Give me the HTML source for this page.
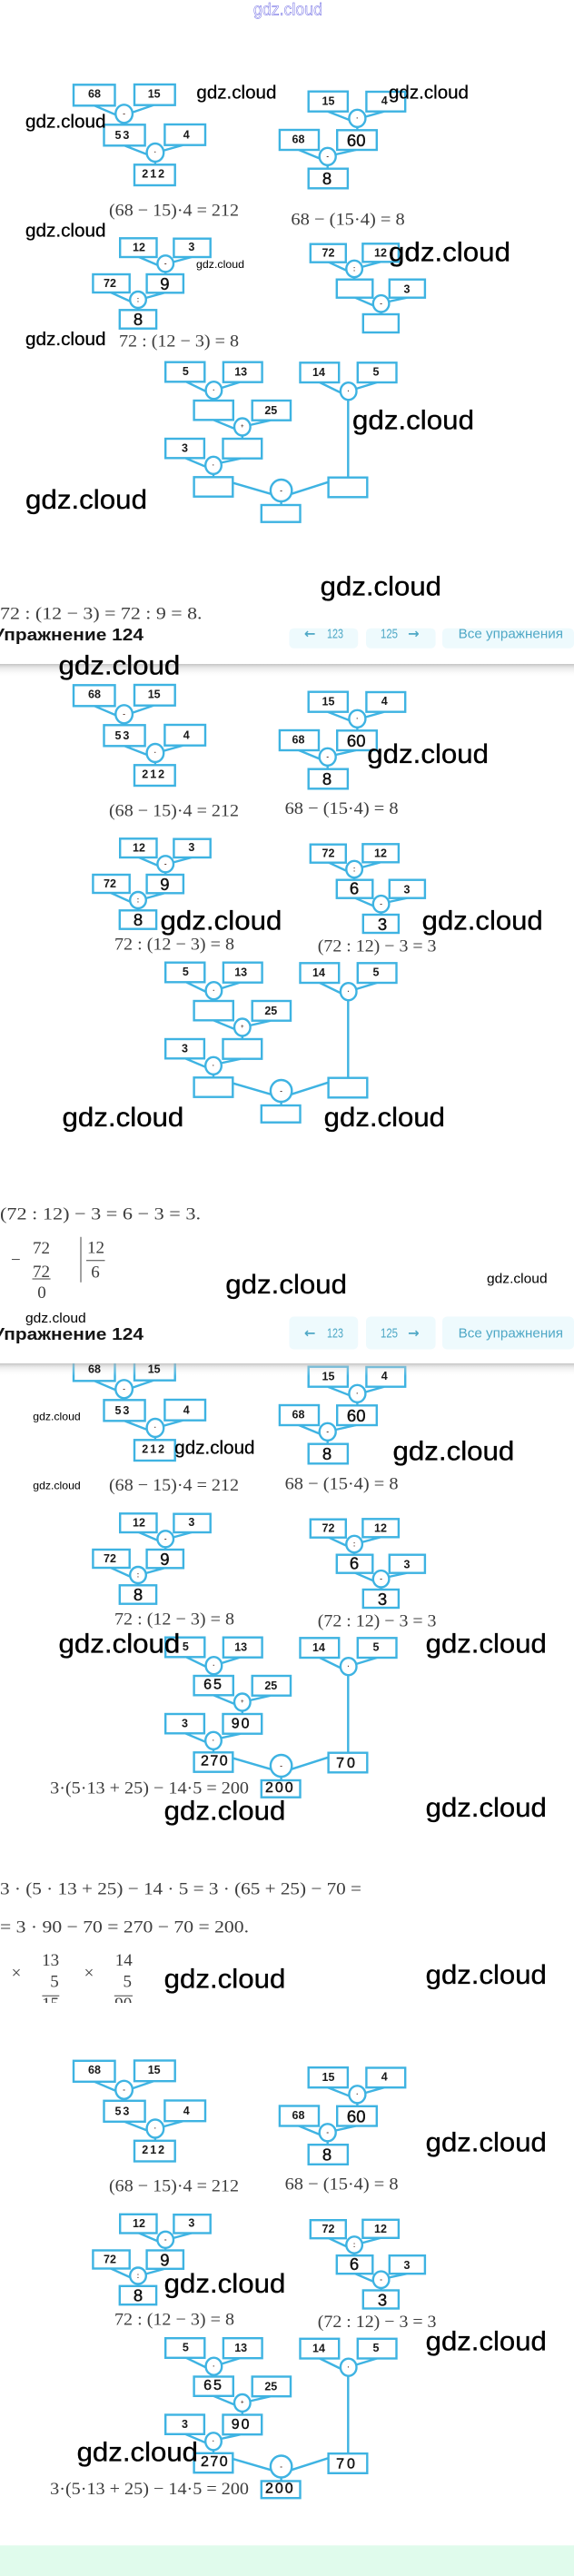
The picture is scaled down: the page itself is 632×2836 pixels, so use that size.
<!DOCTYPE html>
<html lang="ru">
<head>
<meta charset="utf-8">
<title>Упражнение 124</title>
<style>
html,body{margin:0;padding:0;background:#fff}
body{width:632px;height:2836px;overflow:hidden}
svg{display:block}
.n{font:bold 12.5px "Liberation Sans",sans-serif;fill:#1a1a1a;text-anchor:middle;dominant-baseline:central}
.w{letter-spacing:2px}
.b{font:400 18.5px "Liberation Sans",sans-serif;fill:#111;stroke:#111;stroke-width:.45;text-anchor:middle;dominant-baseline:central}
.s{letter-spacing:2px}
.o{font:bold 8px "Liberation Sans",sans-serif;fill:#5a3a30;text-anchor:middle;dominant-baseline:central}
.f{font:19px "Liberation Serif",serif;fill:#3d3d3d}
.c{font:19px "Liberation Serif",serif;fill:#3d3d3d;text-anchor:middle}
.g{font-family:"Liberation Sans","DejaVu Sans",sans-serif;fill:#000}
.l{font-size:30px;stroke:#000;stroke-width:.35}.m{font-size:20px;stroke:#000;stroke-width:.25}.t{font-size:15px}.u{font-size:12px}
.h{font:bold 18.5px "Liberation Sans",sans-serif;fill:#151515}
.v{font:15px "Liberation Sans",sans-serif;fill:#4fa8c6}
.a{font:bold 15px "DejaVu Sans",sans-serif;fill:#4fa8c6}
</style>
</head>
<body>
<svg xmlns="http://www.w3.org/2000/svg" width="632" height="2836" viewBox="0 0 632 2836">
<defs>
<linearGradient id="sh" x1="0" y1="0" x2="0" y2="1"><stop offset="0" stop-color="#aaa" stop-opacity=".7"/><stop offset=".3" stop-color="#ccc" stop-opacity=".4"/><stop offset="1" stop-color="#fff" stop-opacity="0"/></linearGradient>
<g id="m" fill="#fff" stroke="#3eb3e2" stroke-width="2.4">
<!-- A -->
<path fill="none" d="M104 116.3L129 127M169 115.7L145 124M136.6 135V137.3M137 160.3L162 170M201.5 159.7L179 166M170.9 178V181.3"/>
<rect x="81" y="93.3" width="45.5" height="23"/><rect x="148" y="93" width="44.7" height="22.7"/><rect x="114.5" y="137.3" width="45.1" height="23"/><rect x="181.4" y="137" width="44.6" height="22.7"/><rect x="148" y="181.3" width="44.7" height="22.7"/>
<ellipse cx="136.6" cy="125.3" rx="9.3" ry="10"/><ellipse cx="170.9" cy="168" rx="9.3" ry="10"/>
<!-- B -->
<path fill="none" d="M361 122.7L384.5 132M423 122.7L402.5 128.5M393.4 140V143.3M329 165L352 174.5M392 165L369.5 170M360.7 182V185.7"/>
<rect x="339.7" y="100.7" width="43.2" height="22"/><rect x="403.4" y="101" width="42.8" height="21.7"/><rect x="307.9" y="143" width="43.1" height="22"/><rect x="371.2" y="143.3" width="43.6" height="21.7"/><rect x="339.7" y="185.7" width="43.2" height="21.6"/>
<ellipse cx="393.4" cy="130.3" rx="9" ry="9.5"/><ellipse cx="360.7" cy="172.3" rx="9" ry="9.5"/>
<!-- C -->
<path fill="none" d="M153 283L174 292M211 283L190.5 288.5M182.2 300V302M122 322L144 332M181 322.3L160.5 328M152 339.5V341.3"/>
<rect x="132.2" y="262.3" width="40.3" height="20.7"/><rect x="191.4" y="262.7" width="40.3" height="20.3"/><rect x="102.4" y="302" width="40.3" height="20"/><rect x="161.6" y="302" width="40.3" height="20.3"/><rect x="131.8" y="341.3" width="40.3" height="20.4"/>
<ellipse cx="182.2" cy="290.3" rx="8.8" ry="9"/><ellipse cx="152" cy="330" rx="8.8" ry="9"/>
<!-- D -->
<path fill="none" d="M362 288.7L382 298M419 288.3L398 294M390 306V307.7M391 327.7L411.5 336.5M448 327.7L428 332M419.6 344V346"/>
<rect x="341.8" y="268.7" width="39" height="20"/><rect x="399.4" y="268.3" width="39.5" height="20"/><rect x="370.8" y="307.7" width="39.5" height="20"/><rect x="428.8" y="307.7" width="39.1" height="20"/><rect x="399.8" y="346" width="39.1" height="20"/>
<ellipse cx="390.1" cy="296" rx="8.8" ry="9.2"/><ellipse cx="419.6" cy="334.3" rx="8.8" ry="9.2"/>
<!-- E -->
<path fill="none" d="M205 420.3L227 431M264 420.7L244 427M235.4 439.7V441M235 462.3L258.5 472M298 462.7L275 468M266.8 480V483M204 504.3L227 514M265 504.7L243 509.5M235 522V525.3M352 421L375.5 432.5M415 421L392 428M383.3 440V525.7M256.8 531.7L298 543.7M361.6 530.7L321 543.7M309.6 552V556"/>
<rect x="182.2" y="398.7" width="43.1" height="21.6"/><rect x="245.9" y="398.7" width="42.7" height="22"/><rect x="213.6" y="441" width="43.2" height="21.3"/><rect x="277.7" y="441" width="42.3" height="21.7"/><rect x="182.2" y="483" width="42.7" height="21.3"/><rect x="245.5" y="483" width="42.7" height="21.7"/><rect x="213.6" y="525.3" width="42.7" height="21.4"/><rect x="330.5" y="399.3" width="42.7" height="21.7"/><rect x="393.8" y="399.3" width="42.7" height="21.7"/><rect x="361.6" y="525.7" width="42.7" height="21.6"/><rect x="287.8" y="556" width="42.7" height="18.7"/>
<ellipse cx="235.4" cy="429.7" rx="8.8" ry="9.5"/><ellipse cx="266.8" cy="470" rx="8.8" ry="9.5"/><ellipse cx="235" cy="512.3" rx="8.8" ry="9.5"/><ellipse cx="383.7" cy="430.7" rx="8.8" ry="9.5"/><ellipse cx="309.6" cy="540" rx="11.7" ry="12"/>
<g stroke="none">
<text class="o" x="136.6" y="125">-</text><text class="o" x="170.9" y="167.5">·</text><text class="o" x="393.4" y="130">·</text><text class="o" x="360.7" y="172">-</text><text class="o" x="182.2" y="290">-</text><text class="o" x="152" y="330">:</text><text class="o" x="390.1" y="296">:</text><text class="o" x="419.6" y="334">-</text><text class="o" x="235.4" y="429.5">·</text><text class="o" x="266.8" y="470" style="font-size:6px">+</text><text class="o" x="235" y="512">·</text><text class="o" x="383.7" y="430.5">·</text><text class="o" x="309.6" y="540">-</text>
</g>
</g>
</defs>

<!-- Diagram sets -->
<use href="#m"/>
<use href="#m" y="661"/>
<use href="#m" y="1404"/>
<use href="#m" y="2175.5"/>

<g>
<text class="n" x="104" y="103.7">68</text><text class="n" x="169.7" y="103.3">15</text><text class="n w" x="135.4" y="149">53</text><text class="n" x="205.2" y="148.3">4</text><text class="n w" x="169.7" y="191.7">212</text>
<text class="n" x="361.5" y="111.7">15</text><text class="n" x="423.2" y="111">4</text><text class="n" x="328.5" y="153.3">68</text><text class="b" x="392.2" y="154.3">60</text><text class="b" x="360" y="196.7">8</text>
<text class="n" x="153" y="272.7">12</text><text class="n" x="210.8" y="272">3</text><text class="n" x="121" y="312">72</text><text class="b" x="181.4" y="312.7">9</text><text class="b" x="152" y="351.7">8</text>
<text class="n" x="361.5" y="278.7">72</text><text class="n" x="419" y="278.7">12</text><text class="n" x="448" y="318.3">3</text>
<text class="n" x="204.3" y="409">5</text><text class="n" x="265.2" y="409.7">13</text><text class="n" x="298.3" y="452">25</text><text class="n" x="203.5" y="493.7">3</text><text class="n" x="351" y="410">14</text><text class="n" x="414" y="409.7">5</text>
</g>
<g transform="translate(0 661)">
<text class="n" x="104" y="103.7">68</text><text class="n" x="169.7" y="103.3">15</text><text class="n w" x="135.4" y="149">53</text><text class="n" x="205.2" y="148.3">4</text><text class="n w" x="169.7" y="191.7">212</text>
<text class="n" x="361.5" y="111.7">15</text><text class="n" x="423.2" y="111">4</text><text class="n" x="328.5" y="153.3">68</text><text class="b" x="392.2" y="154.3">60</text><text class="b" x="360" y="196.7">8</text>
<text class="n" x="153" y="272.7">12</text><text class="n" x="210.8" y="272">3</text><text class="n" x="121" y="312">72</text><text class="b" x="181.4" y="312.7">9</text><text class="b" x="152" y="351.7">8</text>
<text class="n" x="361.5" y="278.7">72</text><text class="n" x="419" y="278.7">12</text><text class="n" x="448" y="318.3">3</text><text class="b" x="390" y="317">6</text><text class="b" x="421" y="356.3">3</text>
<text class="n" x="204.3" y="409">5</text><text class="n" x="265.2" y="409.7">13</text><text class="n" x="298.3" y="452">25</text><text class="n" x="203.5" y="493.7">3</text><text class="n" x="351" y="410">14</text><text class="n" x="414" y="409.7">5</text>
</g>
<g transform="translate(0 2175.5)">
<text class="n" x="104" y="103.7">68</text><text class="n" x="169.7" y="103.3">15</text><text class="n w" x="135.4" y="149">53</text><text class="n" x="205.2" y="148.3">4</text><text class="n w" x="169.7" y="191.7">212</text>
<text class="n" x="361.5" y="111.7">15</text><text class="n" x="423.2" y="111">4</text><text class="n" x="328.5" y="153.3">68</text><text class="b" x="392.2" y="154.3">60</text><text class="b" x="360" y="196.7">8</text>
<text class="n" x="153" y="272.7">12</text><text class="n" x="210.8" y="272">3</text><text class="n" x="121" y="312">72</text><text class="b" x="181.4" y="312.7">9</text><text class="b" x="152" y="351.7">8</text>
<text class="n" x="361.5" y="278.7">72</text><text class="n" x="419" y="278.7">12</text><text class="n" x="448" y="318.3">3</text><text class="b" x="390" y="317">6</text><text class="b" x="421" y="356.3">3</text>
<text class="n" x="204.3" y="409">5</text><text class="n" x="265.2" y="409.7">13</text><text class="n" x="298.3" y="452">25</text><text class="n" x="203.5" y="493.7">3</text><text class="n" x="351" y="410">14</text><text class="n" x="414" y="409.7">5</text>
<text class="b s" x="235" y="451" style="font-size:16px">65</text><text class="b s" x="265.6" y="494" style="font-size:16px">90</text><text class="b" x="236.6" y="535" style="font-size:16px;letter-spacing:1.5px">270</text><text class="b s" x="382" y="537.3" style="font-size:16px;letter-spacing:3px">70</text><text class="b s" x="308.3" y="564.7" style="font-size:16px">200</text>
</g>

<!-- Formulas -->
<g>
<text class="f" x="120" y="237.7" textLength="143" lengthAdjust="spacingAndGlyphs">(68 − 15)·4 = 212</text>
<text class="f" x="320.4" y="247.3" textLength="125.4" lengthAdjust="spacingAndGlyphs">68 − (15·4) = 8</text>
<text class="f" x="131" y="381.7" textLength="132" lengthAdjust="spacingAndGlyphs">72 : (12 − 3) = 8</text>
<text class="f" x="0" y="681.7" textLength="222.5" lengthAdjust="spacingAndGlyphs">72 : (12 − 3) = 72 : 9 = 8.</text>

<text class="f" x="120" y="898.3" textLength="143" lengthAdjust="spacingAndGlyphs">(68 − 15)·4 = 212</text>
<text class="f" x="313.6" y="896" textLength="125" lengthAdjust="spacingAndGlyphs">68 − (15·4) = 8</text>
<text class="f" x="126" y="1045.7" textLength="132" lengthAdjust="spacingAndGlyphs">72 : (12 − 3) = 8</text>
<text class="f" x="349.8" y="1047.7" textLength="130.7" lengthAdjust="spacingAndGlyphs">(72 : 12) − 3 = 3</text>
<text class="f" x="0" y="1342.7" textLength="221" lengthAdjust="spacingAndGlyphs">(72 : 12) − 3 = 6 − 3 = 3.</text>

<text class="f" x="12" y="1393">−</text>
<text class="c" x="45.5" y="1380">72</text>
<text class="c" x="45.5" y="1406">72</text>
<text class="c" x="46" y="1429">0</text>
<text class="c" x="105.5" y="1379.3">12</text>
<text class="c" x="105" y="1406.7">6</text>

<text class="f" x="120" y="1641" textLength="143" lengthAdjust="spacingAndGlyphs">(68 − 15)·4 = 212</text>
<text class="f" x="313.6" y="1639.3" textLength="125" lengthAdjust="spacingAndGlyphs">68 − (15·4) = 8</text>
<text class="f" x="126" y="1788.3" textLength="132" lengthAdjust="spacingAndGlyphs">72 : (12 − 3) = 8</text>
<text class="f" x="349.8" y="1790.7" textLength="130.7" lengthAdjust="spacingAndGlyphs">(72 : 12) − 3 = 3</text>
<text class="f" x="55.2" y="1974.7" textLength="218.8" lengthAdjust="spacingAndGlyphs">3·(5·13 + 25) − 14·5 = 200</text>
<text class="f" x="0" y="2085.3" textLength="398" lengthAdjust="spacingAndGlyphs">3 · (5 · 13 + 25) − 14 · 5 = 3 · (65 + 25) − 70 =</text>
<text class="f" x="0" y="2127.3" textLength="274" lengthAdjust="spacingAndGlyphs">= 3 · 90 − 70 = 270 − 70 = 200.</text>

<text class="c" x="55.6" y="2164">13</text>
<text class="c" x="136.2" y="2164">14</text>
<text class="c" x="18" y="2178">×</text>
<text class="c" x="98" y="2178">×</text>
<text class="c" x="60" y="2187.3">5</text>
<text class="c" x="140.3" y="2187.3">5</text>
<text class="c" x="55.6" y="2212">15</text>
<text class="c" x="135.8" y="2212">90</text>

<text class="f" x="120" y="2412.3" textLength="143" lengthAdjust="spacingAndGlyphs">(68 − 15)·4 = 212</text>
<text class="f" x="313.6" y="2410.7" textLength="125" lengthAdjust="spacingAndGlyphs">68 − (15·4) = 8</text>
<text class="f" x="126" y="2559.3" textLength="132" lengthAdjust="spacingAndGlyphs">72 : (12 − 3) = 8</text>
<text class="f" x="349.8" y="2562" textLength="130.7" lengthAdjust="spacingAndGlyphs">(72 : 12) − 3 = 3</text>
<text class="f" x="55.2" y="2746" textLength="218.8" lengthAdjust="spacingAndGlyphs">3·(5·13 + 25) − 14·5 = 200</text>
</g>
<!-- arithmetic rules -->
<g stroke="#444" stroke-width="1" fill="none">
<path d="M35.5 1408H55.6M89 1361.7V1411.7M95 1387.7H115.5M46.4 2197.3H65.3M125.8 2197.3H146"/>
</g>
<rect x="0" y="2205" width="632" height="12" fill="#fff"/>

<!-- First page header -->
<rect x="318.4" y="691.7" width="75.8" height="22" rx="5" fill="#eefafd"/>
<rect x="403" y="691.7" width="76.6" height="22" rx="5" fill="#eefafd"/>
<rect x="487" y="691.7" width="145" height="22" rx="5" fill="#eefafd"/>
<text class="a" x="335" y="702.5">←</text><text class="v" x="360" y="702.5" textLength="18" lengthAdjust="spacingAndGlyphs">123</text>
<text class="v" x="419" y="702.5" textLength="19" lengthAdjust="spacingAndGlyphs">125</text><text class="a" x="449" y="702.5">→</text>
<text class="v" x="504.6" y="702.5" textLength="115.4" lengthAdjust="spacingAndGlyphs">Все упражнения</text>
<text class="h" x="-8" y="705" textLength="166" lengthAdjust="spacingAndGlyphs">Упражнение 124</text>
<rect x="0" y="731" width="632" height="15" fill="url(#sh)"/>

<!-- Second page header -->
<rect x="0" y="1440" width="632" height="61" fill="#fff"/>
<rect x="318.4" y="1449.5" width="75.8" height="36" rx="5" fill="#eefafd"/>
<rect x="403" y="1449.5" width="76.6" height="36" rx="5" fill="#eefafd"/>
<rect x="487" y="1449.5" width="145" height="36" rx="5" fill="#eefafd"/>
<text class="a" x="335" y="1472.5">←</text><text class="v" x="360" y="1472.5" textLength="18" lengthAdjust="spacingAndGlyphs">123</text>
<text class="v" x="419" y="1472.5" textLength="19" lengthAdjust="spacingAndGlyphs">125</text><text class="a" x="449" y="1472.5">→</text>
<text class="v" x="504.6" y="1472.5" textLength="115.4" lengthAdjust="spacingAndGlyphs">Все упражнения</text>
<text class="h" x="-8" y="1475" textLength="166" lengthAdjust="spacingAndGlyphs">Упражнение 124</text>
<rect x="0" y="1501" width="632" height="14" fill="url(#sh)"/>

<!-- Third diagram set labels sit above the header shadow -->
<g transform="translate(0 1404)">
<text class="n" x="104" y="103.7">68</text><text class="n" x="169.7" y="103.3">15</text><text class="n w" x="135.4" y="149">53</text><text class="n" x="205.2" y="148.3">4</text><text class="n w" x="169.7" y="191.7">212</text>
<text class="n" x="361.5" y="111.7">15</text><text class="n" x="423.2" y="111">4</text><text class="n" x="328.5" y="153.3">68</text><text class="b" x="392.2" y="154.3">60</text><text class="b" x="360" y="196.7">8</text>
<text class="n" x="153" y="272.7">12</text><text class="n" x="210.8" y="272">3</text><text class="n" x="121" y="312">72</text><text class="b" x="181.4" y="312.7">9</text><text class="b" x="152" y="351.7">8</text>
<text class="n" x="361.5" y="278.7">72</text><text class="n" x="419" y="278.7">12</text><text class="n" x="448" y="318.3">3</text><text class="b" x="390" y="317">6</text><text class="b" x="421" y="356.3">3</text>
<text class="n" x="204.3" y="409">5</text><text class="n" x="265.2" y="409.7">13</text><text class="n" x="298.3" y="452">25</text><text class="n" x="203.5" y="493.7">3</text><text class="n" x="351" y="410">14</text><text class="n" x="414" y="409.7">5</text>
<text class="b s" x="235" y="451" style="font-size:16px">65</text><text class="b s" x="265.6" y="494" style="font-size:16px">90</text><text class="b" x="236.6" y="535" style="font-size:16px;letter-spacing:1.5px">270</text><text class="b s" x="382" y="537.3" style="font-size:16px;letter-spacing:3px">70</text><text class="b s" x="308.3" y="564.7" style="font-size:16px">200</text>
</g>

<!-- Footer band -->
<rect x="0" y="2802.3" width="632" height="34" fill="#e0fbec"/>

<!-- Watermarks -->
<text x="279" y="16.7" textLength="76" lengthAdjust="spacingAndGlyphs" style="font:18px 'Liberation Sans',sans-serif;fill:#fff;stroke:#5a56e0;stroke-width:.45">gdz.cloud</text>
<g class="g">
<text class="m" x="216.4" y="108.3" textLength="88" lengthAdjust="spacingAndGlyphs">gdz.cloud</text>
<text class="m" x="428" y="108.3" textLength="88" lengthAdjust="spacingAndGlyphs">gdz.cloud</text>
<text class="m" x="28" y="140.7" textLength="88.5" lengthAdjust="spacingAndGlyphs">gdz.cloud</text>
<text class="m" x="28" y="260.7" textLength="88.5" lengthAdjust="spacingAndGlyphs">gdz.cloud</text>
<text class="u" x="216" y="295" textLength="53" lengthAdjust="spacingAndGlyphs">gdz.cloud</text>
<text class="l" x="428" y="287.3" textLength="134" lengthAdjust="spacingAndGlyphs">gdz.cloud</text>
<text class="m" x="28" y="380" textLength="88.5" lengthAdjust="spacingAndGlyphs">gdz.cloud</text>
<text class="l" x="388" y="472.3" textLength="134" lengthAdjust="spacingAndGlyphs">gdz.cloud</text>
<text class="l" x="28" y="560" textLength="134" lengthAdjust="spacingAndGlyphs">gdz.cloud</text>
<text class="l" x="352.7" y="655.7" textLength="133.3" lengthAdjust="spacingAndGlyphs">gdz.cloud</text>
<text class="l" x="64.5" y="742.7" textLength="133.8" lengthAdjust="spacingAndGlyphs">gdz.cloud</text>
<text class="l" x="404.3" y="840" textLength="133.7" lengthAdjust="spacingAndGlyphs">gdz.cloud</text>
<text class="l" x="176.5" y="1023.3" textLength="133.9" lengthAdjust="spacingAndGlyphs">gdz.cloud</text>
<text class="l" x="464.7" y="1023.3" textLength="133" lengthAdjust="spacingAndGlyphs">gdz.cloud</text>
<text class="l" x="68.5" y="1240" textLength="133.8" lengthAdjust="spacingAndGlyphs">gdz.cloud</text>
<text class="l" x="356.7" y="1240" textLength="133.3" lengthAdjust="spacingAndGlyphs">gdz.cloud</text>
<text class="l" x="248.3" y="1424" textLength="133.7" lengthAdjust="spacingAndGlyphs">gdz.cloud</text>
<text class="t" x="536" y="1412.7" textLength="66.6" lengthAdjust="spacingAndGlyphs">gdz.cloud</text>
<text class="t" x="28" y="1456" textLength="66.7" lengthAdjust="spacingAndGlyphs">gdz.cloud</text>
<text class="u" x="36.3" y="1563.3" textLength="52.4" lengthAdjust="spacingAndGlyphs">gdz.cloud</text>
<text class="m" x="192.3" y="1600.7" textLength="88.2" lengthAdjust="spacingAndGlyphs">gdz.cloud</text>
<text class="l" x="432.5" y="1607.3" textLength="133.8" lengthAdjust="spacingAndGlyphs">gdz.cloud</text>
<text class="u" x="36.3" y="1639.3" textLength="52.4" lengthAdjust="spacingAndGlyphs">gdz.cloud</text>
<text class="l" x="64.5" y="1819.3" textLength="133.8" lengthAdjust="spacingAndGlyphs">gdz.cloud</text>
<text class="l" x="468.7" y="1819.3" textLength="133.1" lengthAdjust="spacingAndGlyphs">gdz.cloud</text>
<text class="l" x="180.6" y="2003.3" textLength="133.8" lengthAdjust="spacingAndGlyphs">gdz.cloud</text>
<text class="l" x="468.7" y="2000" textLength="133.1" lengthAdjust="spacingAndGlyphs">gdz.cloud</text>
<text class="l" x="180.6" y="2188.3" textLength="133.8" lengthAdjust="spacingAndGlyphs">gdz.cloud</text>
<text class="l" x="468.7" y="2184" textLength="133.1" lengthAdjust="spacingAndGlyphs">gdz.cloud</text>
<text class="l" x="468.7" y="2368.3" textLength="133.1" lengthAdjust="spacingAndGlyphs">gdz.cloud</text>
<text class="l" x="180.6" y="2524" textLength="133.8" lengthAdjust="spacingAndGlyphs">gdz.cloud</text>
<text class="l" x="468.7" y="2587.3" textLength="133.1" lengthAdjust="spacingAndGlyphs">gdz.cloud</text>
<text class="l" x="84.6" y="2709.3" textLength="133.4" lengthAdjust="spacingAndGlyphs">gdz.cloud</text>
</g>
</svg>
</body>
</html>
